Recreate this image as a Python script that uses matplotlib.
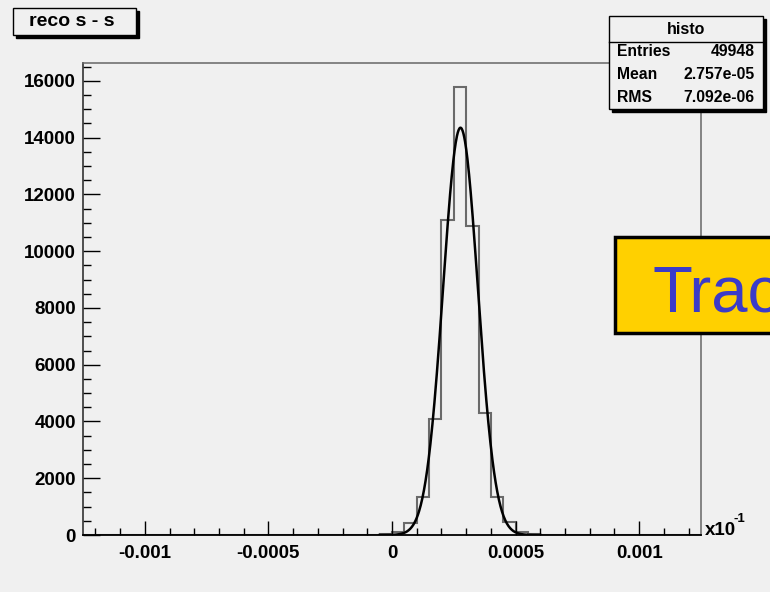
import numpy as np
import matplotlib
matplotlib.use('Agg')
import matplotlib.pyplot as plt
from matplotlib.patches import Rectangle
from matplotlib.ticker import MultipleLocator

plt.rcParams['font.family'] = ['Liberation Sans', 'DejaVu Sans']

# histogram: 50 bins of 5e-5 from -0.00125 to 0.00125
bin_edges = np.linspace(-0.00125, 0.00125, 51)
counts = [0] * 24 + [30, 100, 430, 1350, 4100, 11100, 15800, 10900,
                     4300, 1350, 450, 100, 30, 15] + [0] * 12

# gaussian fit
fit_amp = 14350
fit_mean = 0.000277
fit_sigma = 0.0000703

# stats box
stats_title = 'histo'
stats_names = ['Entries', 'Mean', 'RMS']
stats_values = ['49948', '2.757e-05', '7.092e-06']

bg = '#f0f0f0'
fig = plt.figure(figsize=(7.7, 5.92), dpi=100, facecolor=bg)
ax = fig.add_axes([83 / 770, 57 / 592, 618 / 770, 472 / 592], facecolor=bg)

ax.stairs(counts, bin_edges, color='#6a6a6a', lw=1.5)
xs = np.linspace(-0.00005, 0.0006, 400)
ax.plot(xs, fit_amp * np.exp(-0.5 * ((xs - fit_mean) / fit_sigma) ** 2),
        color='black', lw=1.8)

ax.set_xlim(-0.00125, 0.00125)
ax.set_ylim(0, 16630)
ax.xaxis.set_minor_locator(MultipleLocator(0.0001))
ax.yaxis.set_major_locator(MultipleLocator(2000))
ax.yaxis.set_minor_locator(MultipleLocator(500))
ax.set_xticks([-0.001, -0.0005, 0, 0.0005, 0.001])
ax.set_xticklabels(['-0.001', '-0.0005', '0', '0.0005', '0.001'])
ax.tick_params(axis='x', which='major', direction='in', length=10, width=1, pad=7,
               labelsize=13.5)
ax.tick_params(axis='x', which='minor', direction='in', length=5, width=1)
ax.tick_params(axis='y', which='major', direction='in', length=12, width=1, pad=5,
               labelsize=13.5)
ax.tick_params(axis='y', which='minor', direction='in', length=6, width=1)
for lab in ax.get_xticklabels() + ax.get_yticklabels():
    lab.set_fontweight('bold')
ax.spines['bottom'].set_color('black')
ax.spines['bottom'].set_linewidth(1.3)
ax.spines['left'].set_color('#333333')
ax.spines['left'].set_linewidth(1.2)
for s in ['top', 'right']:
    ax.spines[s].set_color('#666666')
    ax.spines[s].set_linewidth(1.1)

# axis exponent label
ax.text(1.006, 0.0, 'x10', transform=ax.transAxes, fontsize=13.5,
        fontweight='bold', ha='left', va='baseline')
ax.text(1.053, 0.027, '-1', transform=ax.transAxes, fontsize=9.5,
        fontweight='bold', ha='left', va='baseline')


def px_box(x0, y0, x1, y1, shadow=3):
    # box in pixel coords (top-left origin) with ROOT style drop shadow
    W, H = 770, 592
    fig.patches.append(Rectangle(((x0 + shadow) / W, (H - y1 - shadow) / H),
                                 (x1 - x0) / W, (y1 - y0) / H,
                                 transform=fig.transFigure, facecolor='black',
                                 edgecolor='black', zorder=5))
    fig.patches.append(Rectangle((x0 / W, (H - y1) / H), (x1 - x0) / W, (y1 - y0) / H,
                                 transform=fig.transFigure, facecolor=bg,
                                 edgecolor='black', lw=1, zorder=6))


def px_text(x, y, s, **kw):
    fig.text(x / 770, 1 - y / 592, s, zorder=7, fontweight='bold', **kw)


# title box
px_box(13, 8, 136, 35)
px_text(29, 22, 'reco s - s', fontsize=14, va='center', ha='left')

# stats box
px_box(609, 16, 763, 109)
fig.lines.append(plt.Line2D([609 / 770, 763 / 770], [1 - 42 / 592, 1 - 42 / 592],
                            transform=fig.transFigure, color='black', lw=1, zorder=7))
px_text(686, 29, stats_title, fontsize=11.5, ha='center', va='center')
for i, (n, v) in enumerate(zip(stats_names, stats_values)):
    y = 51.5 + i * 23
    px_text(617, y, n, fontsize=11.3, ha='left', va='center')
    px_text(755, y, v, fontsize=11.3, ha='right', va='center')

# yellow label box, cut by the right edge
fig.patches.append(Rectangle((615 / 770, (592 - 333) / 592), 0.3, 96 / 592,
                             transform=fig.transFigure, facecolor='#ffd000',
                             edgecolor='black', lw=2.5, zorder=8))
fig.text(653 / 770, 1 - 312 / 592, 'Trac', fontsize=47, color='#3b3bc8',
         ha='left', va='baseline', zorder=9)

fig.savefig('out.png', dpi=100, facecolor=bg)
